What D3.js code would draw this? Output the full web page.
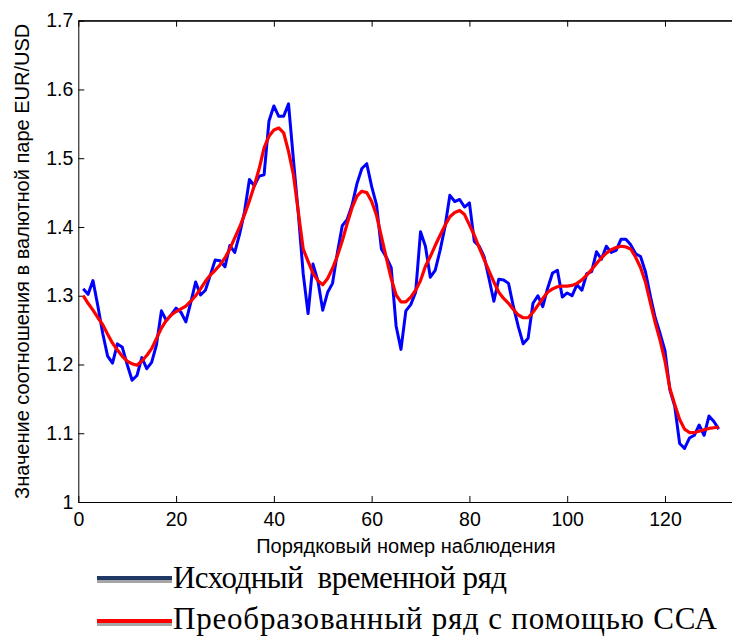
<!DOCTYPE html>
<html>
<head>
<meta charset="utf-8">
<script src="https://cdnjs.cloudflare.com/ajax/libs/d3/7.8.5/d3.min.js"></script>
<style>
  html, body { margin: 0; padding: 0; background: #fff; }
  svg { display: block; }
</style>
</head>
<body>
<svg id="chart" width="732" height="637"></svg>
<script>
// ---- data ----
const originalSeries = [
  1.310, 1.302, 1.322, 1.285, 1.245, 1.212, 1.202, 1.230, 1.225, 1.200,
  1.177, 1.184, 1.210, 1.194, 1.203, 1.229, 1.278, 1.264, 1.272, 1.282,
  1.276, 1.262, 1.290, 1.320, 1.301, 1.308, 1.330, 1.352, 1.351, 1.342,
  1.373, 1.363, 1.390, 1.422, 1.469, 1.460, 1.474, 1.476, 1.554, 1.576,
  1.561, 1.561, 1.579, 1.498, 1.420, 1.332, 1.274, 1.346, 1.322, 1.279,
  1.305, 1.318, 1.363, 1.402, 1.411, 1.432, 1.463, 1.485, 1.492, 1.459,
  1.432, 1.368, 1.356, 1.341, 1.256, 1.222, 1.278, 1.287, 1.305, 1.393,
  1.372, 1.327, 1.337, 1.366, 1.400, 1.446, 1.437, 1.440, 1.429, 1.435,
  1.379, 1.372, 1.357, 1.325, 1.292, 1.324, 1.323, 1.318, 1.284, 1.255,
  1.230, 1.238, 1.289, 1.300, 1.284, 1.311, 1.333, 1.337, 1.298, 1.304,
  1.300, 1.316, 1.308, 1.332, 1.335, 1.364, 1.353, 1.372, 1.363, 1.366,
  1.382, 1.382, 1.374, 1.361, 1.357, 1.335, 1.300, 1.268, 1.245, 1.220,
  1.163, 1.139, 1.085, 1.078, 1.093, 1.097, 1.112, 1.097, 1.125, 1.117,
  1.106
];
const ssaSeries = [
  1.300, 1.289, 1.279, 1.268, 1.258, 1.244, 1.231, 1.221, 1.212, 1.205,
  1.201, 1.199, 1.205, 1.213, 1.223, 1.238, 1.253, 1.264, 1.272, 1.277,
  1.281, 1.285, 1.292, 1.300, 1.310, 1.321, 1.330, 1.337, 1.345, 1.355,
  1.368, 1.384, 1.400, 1.418, 1.438, 1.460, 1.485, 1.515, 1.532, 1.541,
  1.544, 1.537, 1.510, 1.476, 1.422, 1.368, 1.350, 1.333, 1.322, 1.316,
  1.325, 1.340, 1.358, 1.380, 1.405, 1.428, 1.445, 1.452, 1.450, 1.437,
  1.417, 1.386, 1.355, 1.325, 1.301, 1.291, 1.291, 1.298, 1.308, 1.322,
  1.343, 1.357, 1.373, 1.388, 1.402, 1.415, 1.421, 1.424, 1.418, 1.403,
  1.388, 1.370, 1.353, 1.336, 1.320, 1.305, 1.296, 1.289, 1.280, 1.272,
  1.268, 1.268, 1.276, 1.286, 1.296, 1.305, 1.310, 1.313, 1.314, 1.314,
  1.315, 1.318, 1.323, 1.330, 1.338, 1.347, 1.355, 1.362, 1.367, 1.370,
  1.372, 1.371, 1.368, 1.356, 1.341, 1.320, 1.290, 1.261, 1.235, 1.205,
  1.165, 1.142, 1.120, 1.106, 1.101, 1.101, 1.103, 1.105, 1.107, 1.108,
  1.109
];
const xTicks = [0, 20, 40, 60, 80, 100, 120];
const yTicks = [1, 1.1, 1.2, 1.3, 1.4, 1.5, 1.6, 1.7];
const xLabel = "Порядковый номер наблюдения";
const yLabel = "Значение соотношения в валютной паре EUR/USD";
const legendLabels = ["Исходный  временной ряд", "Преобразованный ряд с помощью ССА"];

// ---- layout ----
const svg = d3.select("#chart");
const plotLeft = 78.3, plotTop = 20.7, plotBottom = 502;
const x = d3.scaleLinear().domain([0, 134]).range([plotLeft, plotLeft + 134 * 4.889]);
const y = d3.scaleLinear().domain([1, 1.7]).range([plotBottom, plotTop]);
const plotRight = x(134);

svg.append("rect").attr("width", 732).attr("height", 637).attr("fill", "#fff");

const axisFont = "Arial, 'Liberation Sans', sans-serif";

// frame (top and right)
svg.append("line").attr("x1", plotLeft).attr("x2", plotRight).attr("y1", plotTop).attr("y2", plotTop)
  .attr("stroke", "#000").attr("stroke-width", 1);
svg.append("line").attr("x1", plotRight).attr("x2", plotRight).attr("y1", plotTop).attr("y2", plotBottom)
  .attr("stroke", "#000").attr("stroke-width", 1);

// bottom axis
const gx = svg.append("g").attr("transform", `translate(0,${plotBottom})`)
  .call(d3.axisBottom(x).tickValues(xTicks).tickSize(-6).tickSizeOuter(0).tickPadding(10).tickFormat(d3.format("d")));
// top ticks
const gxt = svg.append("g").attr("transform", `translate(0,${plotTop})`)
  .call(d3.axisTop(x).tickValues(xTicks).tickSize(-6).tickSizeOuter(0).tickFormat(""));
// left axis
const gy = svg.append("g").attr("transform", `translate(${plotLeft},0)`)
  .call(d3.axisLeft(y).tickValues(yTicks).tickSize(-6).tickSizeOuter(0).tickPadding(5)
    .tickFormat(d => d === 1 ? "1" : d3.format(".1f")(d)));

[gx, gxt, gy].forEach(g => {
  g.select(".domain").attr("stroke", "#000").attr("stroke-width", 1);
  g.selectAll(".tick line").attr("stroke", "#000").attr("stroke-width", 1);
  g.selectAll(".tick text").attr("fill", "#000").style("font-family", axisFont).style("font-size", "19.5px");
});

// series lines
const lineGen = d3.line().x((d, i) => x(i + 1)).y(d => y(d));
svg.append("path").datum(originalSeries).attr("d", lineGen)
  .attr("fill", "none").attr("stroke", "#0000ff").attr("stroke-width", 3)
  .attr("stroke-linejoin", "round");
svg.append("path").datum(ssaSeries).attr("d", lineGen)
  .attr("fill", "none").attr("stroke", "#ff0000").attr("stroke-width", 3.2)
  .attr("stroke-linejoin", "round");

// axis labels
svg.append("text").attr("x", (plotLeft + plotRight) / 2).attr("y", 553)
  .attr("text-anchor", "middle").style("font-family", axisFont).style("font-size", "20px")
  .text(xLabel);
svg.append("text").attr("transform", `translate(29,${(plotTop + plotBottom) / 2}) rotate(-90)`)
  .attr("text-anchor", "middle").style("font-family", axisFont).style("font-size", "20px")
  .text(yLabel);

// legend
const legendColors = ["#1f3864", "#ff0000"];
const legendY = [578, 621];
const legendBase = [588, 629];
const legendWidths = [334, 544];
legendLabels.forEach((lab, i) => {
  const g = svg.append("g");
  g.append("rect").attr("x", 97).attr("y", legendY[i] + 2).attr("width", 75).attr("height", 3).attr("fill", "#a6a6a6");
  g.append("rect").attr("x", 97).attr("y", legendY[i] - 2).attr("width", 75).attr("height", 4).attr("fill", legendColors[i]);
  g.append("text").attr("x", 173).attr("y", legendBase[i])
    .attr("xml:space", "preserve").style("white-space", "pre")
    .attr("textLength", legendWidths[i]).attr("lengthAdjust", "spacing")
    .style("font-family", "'Times New Roman', 'Liberation Serif', serif").style("font-size", "31px")
    .attr("fill", "#000").text(lab);
});
</script>
</body>
</html>
